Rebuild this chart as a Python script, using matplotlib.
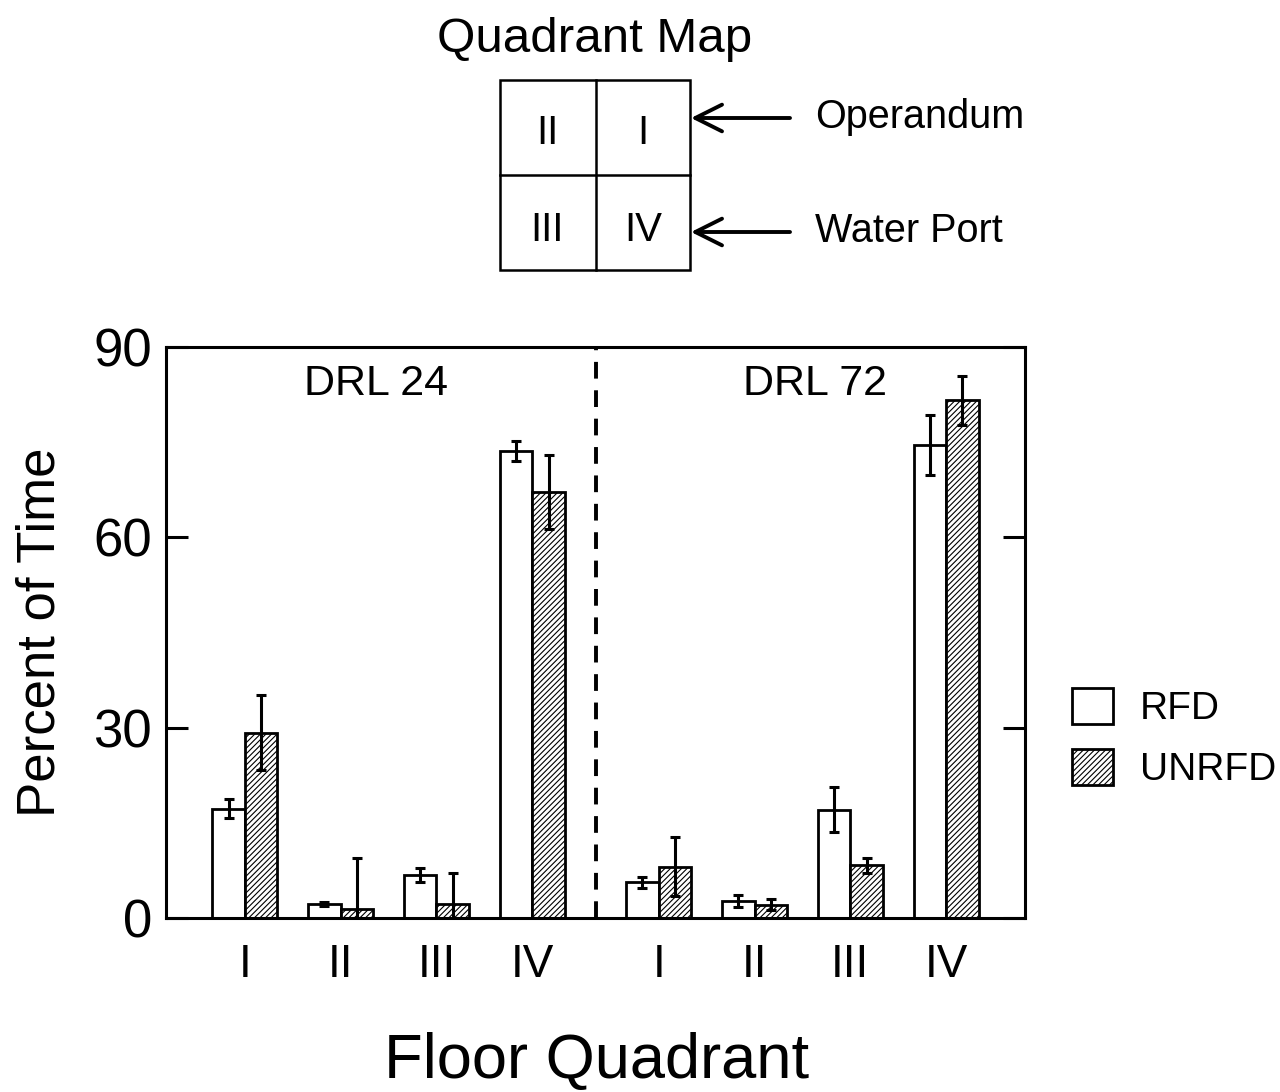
import numpy as np
import matplotlib
matplotlib.use("Agg")
import matplotlib.pyplot as plt
from matplotlib.patches import Rectangle

plt.rcParams['font.family'] = ['Liberation Sans', 'DejaVu Sans']
plt.rcParams['hatch.linewidth'] = 0.8

# data
quadrants = ["I", "II", "III", "IV"]
schedules = ["DRL 24", "DRL 72"]
rfd = [17.2, 2.2, 6.8, 73.6, 5.6, 2.7, 17.1, 74.6]
rfd_err = [1.5, 0.3, 1.1, 1.6, 0.9, 1.0, 3.5, 4.7]
unrfd = [29.2, 1.4, 2.2, 67.1, 8.1, 2.1, 8.3, 81.6]
unrfd_err = [5.9, 8.1, 4.9, 5.8, 4.6, 0.9, 1.2, 3.9]

fig = plt.figure(figsize=(12.8, 10.92), dpi=100)
ax = fig.add_axes([166 / 1280, 174 / 1092, 859 / 1280, 571 / 1092])

gap = 1.32
centers = np.array([0, 1, 2, 3, 3 + gap, 4 + gap, 5 + gap, 6 + gap])
w = 0.34

rfd = np.array(rfd)
unrfd = np.array(unrfd)
rfd_err = np.array(rfd_err)
unrfd_err = np.array(unrfd_err)
# error bars that would go below zero are cut at the axis
rfd_lo = np.minimum(rfd_err, rfd)
unrfd_lo = np.minimum(unrfd_err, unrfd)

ekw = dict(elinewidth=2.2, capthick=2.2, ecolor='black')
b1 = ax.bar(centers - w / 2, rfd, w, color='white', edgecolor='black', linewidth=2.0,
            yerr=[rfd_lo, rfd_err], capsize=3.8, error_kw=ekw, label='RFD', zorder=2)
b2 = ax.bar(centers + w / 2, unrfd, w, color='white', edgecolor='black', linewidth=2.0,
            hatch='//////', yerr=[unrfd_lo, unrfd_err], capsize=3.8, error_kw=ekw,
            label='UNRFD', zorder=2)

xmin = centers[0] - 0.823
xmax = centers[-1] + 0.823
ax.set_xlim(xmin, xmax)
ax.set_ylim(0, 90)

split = (centers[3] + centers[4]) / 2
ax.axvline(split, color='black', lw=2.8, ls=(0, (4.3, 3)), zorder=1)

ax.text((xmin + split) / 2 - 0.05, 84.2, schedules[0], ha='center', va='center', fontsize=31)
ax.text((split + xmax) / 2 + 0.05, 84.2, schedules[1], ha='center', va='center', fontsize=31)

ax.set_xticks(centers)
ax.set_xticklabels(quadrants * 2, fontsize=33)
ax.tick_params(axis='x', length=0, pad=18)
ax.set_yticks([0, 30, 60, 90])
ax.tick_params(axis='y', direction='in', length=16, width=2.2, labelsize=38, pad=10,
               right=True)
for s in ax.spines.values():
    s.set_linewidth(2.2)

ax.set_ylabel('Percent of Time', fontsize=38, labelpad=20)
fig.text(597 / 1280, 1 - 1062 / 1092, 'Floor Quadrant', ha='center', va='center', fontsize=45.5)

ax.legend(handles=[b1, b2], loc='center left', bbox_to_anchor=(1.055, 0.315),
          frameon=False, fontsize=28, handlelength=1.05, handleheight=1.05,
          handletextpad=0.68, labelspacing=0.55, borderpad=0, borderaxespad=0)

# quadrant map on top, drawn in pixel coordinates
top = fig.add_axes([0, 0, 1, 1], zorder=-1)
top.set_xlim(0, 1280)
top.set_ylim(1092, 0)
top.axis('off')
top.add_patch(Rectangle((500, 80), 190, 190, fill=False, lw=1.8, ec='black'))
top.plot([596, 596], [80, 270], color='black', lw=1.8)
top.plot([500, 690], [175, 175], color='black', lw=1.8)
top.text(595, 39, 'Quadrant Map', ha='center', va='center', fontsize=35.5)
map_labels = ["II", "I", "III", "IV"]
map_pos = [(547, 133), (643, 133), (547, 230), (643, 230)]
for lab, (px, py) in zip(map_labels, map_pos):
    top.text(px, py, lab, ha='center', va='center', fontsize=29)
for py, lab in [(118, 'Operandum'), (232, 'Water Port')]:
    top.annotate('', xy=(691, py), xytext=(790, py),
                 arrowprops=dict(arrowstyle='->', lw=2.8, color='black',
                                 mutation_scale=48, shrinkA=0, shrinkB=0))
    top.text(815, py - 1, lab, ha='left', va='center', fontsize=28.5)

fig.savefig('out.png', dpi=100)
